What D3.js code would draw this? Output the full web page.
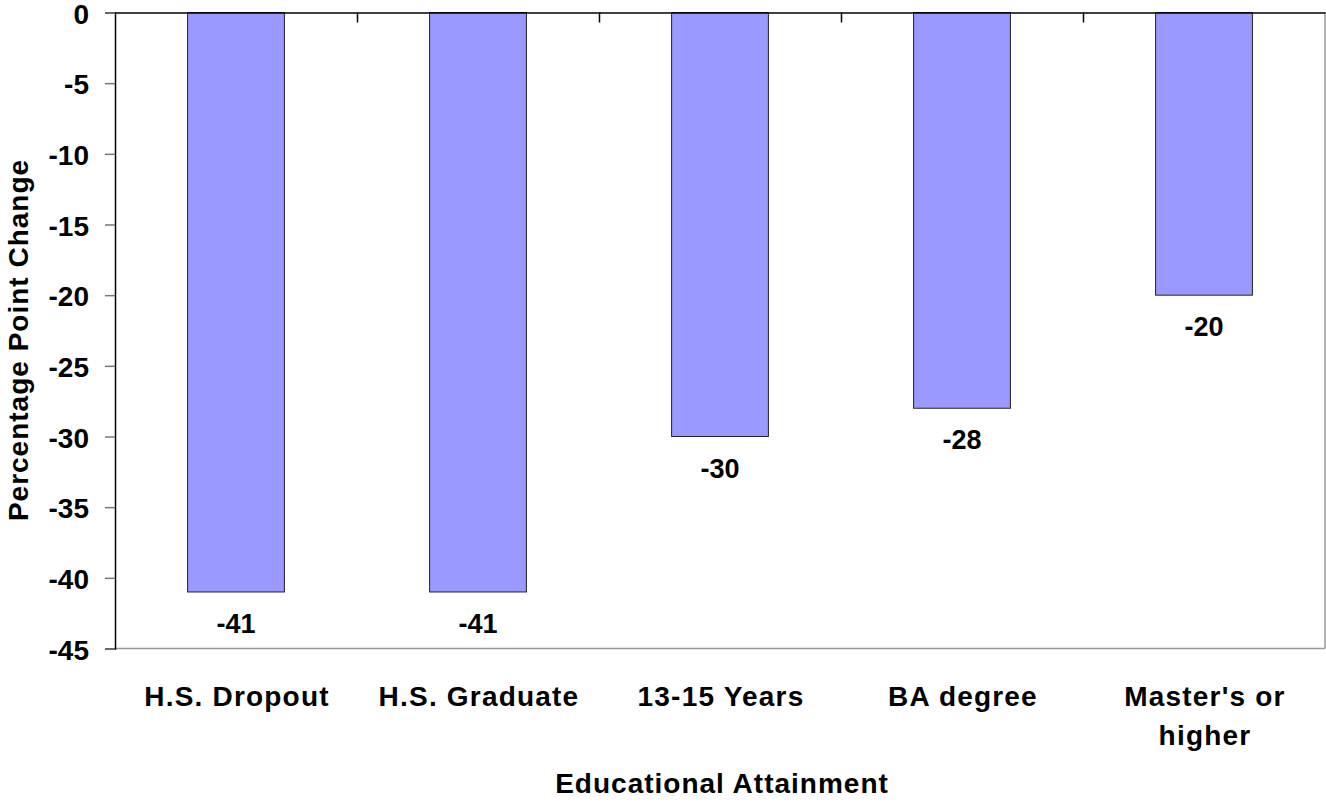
<!DOCTYPE html>
<html>
<head>
<meta charset="utf-8">
<script src="https://cdn.jsdelivr.net/npm/d3@7"></script>
<style>
  html, body { margin: 0; padding: 0; background: #fff; }
  svg { display: block; font-family: "Liberation Sans", Arial, sans-serif; font-weight: bold; }
</style>
</head>
<body>
<svg id="chart" width="1326" height="804"></svg>
<script>
const categories = ["H.S. Dropout", "H.S. Graduate", "13-15 Years", "BA degree", "Master's or higher"];
const categoryLines = [["H.S. Dropout"], ["H.S. Graduate"], ["13-15 Years"], ["BA degree"], ["Master's or", "higher"]];
const values = [-41, -41, -30, -28, -20];
const yTicks = [0, -5, -10, -15, -20, -25, -30, -35, -40, -45];
const yTitle = "Percentage Point Change";
const xTitle = "Educational Attainment";

(function () {
const svg = d3.select("#chart");
const pL = 115, pR = 1325, pT = 12.5, pB = 648.5;

const x = d3.scaleBand().domain(categories).range([pL, pR]).paddingInner(0.6).paddingOuter(0.3);
const xOuter = d3.scaleBand().domain(categories).range([pL, pR]);
const y = d3.scaleLinear().domain([0, -45]).range([pT, pB]);

// plot border (gray) on bottom and right
svg.append("line").attr("x1", pL).attr("x2", pR).attr("y1", pB).attr("y2", pB)
  .attr("stroke", "#999").attr("stroke-width", 1.5);
svg.append("line").attr("x1", pR).attr("x2", pR).attr("y1", pT).attr("y2", pB)
  .attr("stroke", "#999").attr("stroke-width", 1.5);

// bars
svg.append("g").selectAll("rect").data(values).join("rect")
  .attr("x", (d, i) => x(categories[i]))
  .attr("width", x.bandwidth())
  .attr("y", d => y(Math.max(0, d)))
  .attr("height", d => Math.abs(y(d) - y(0)))
  .attr("fill", "#9999FF")
  .attr("stroke", "#222")
  .attr("stroke-width", 1);

// value labels
svg.append("g").selectAll("text").data(values).join("text")
  .attr("x", (d, i) => x(categories[i]) + x.bandwidth() / 2)
  .attr("y", d => y(d) + 41)
  .attr("text-anchor", "middle")
  .attr("font-size", 27)
  .attr("fill", "#000")
  .text(d => String(d));

// y axis
const yAxis = d3.axisLeft(y).tickValues(yTicks).tickSize(10).tickPadding(16).tickFormat(d => String(d));
const gy = svg.append("g").attr("transform", `translate(${pL},0)`).call(yAxis);
gy.select(".domain").attr("stroke", "#000").attr("stroke-width", 1.5);
gy.selectAll(".tick line").attr("stroke", "#777").attr("stroke-width", 1.5);
gy.selectAll(".tick text").attr("font-size", 28).attr("font-family", "Liberation Sans, Arial, sans-serif")
  .attr("font-weight", "bold").attr("fill", "#000").attr("dy", "0.38em");

// top axis at zero with inward category-boundary ticks
const boundaries = categories.slice(1).map(c => xOuter(c));
const xAxis = d3.axisTop(d3.scaleLinear().domain([pL, pR]).range([pL, pR]))
  .tickValues(boundaries).tickSize(-10).tickFormat("").tickSizeOuter(0);
const gx = svg.append("g").attr("transform", `translate(0,${y(0)})`).call(xAxis);
gx.select(".domain").attr("stroke", "#000").attr("stroke-width", 1.5);
gx.selectAll(".tick line").attr("stroke", "#000").attr("stroke-width", 1.5);

// category labels
const cl = svg.append("g").selectAll("text").data(categoryLines).join("text")
  .attr("x", (d, i) => xOuter(categories[i]) + xOuter.bandwidth() / 2 + 1)
  .attr("y", 706)
  .attr("text-anchor", "middle")
  .attr("font-size", 28)
  .attr("letter-spacing", 1.2)
  .attr("fill", "#000");
cl.selectAll("tspan").data(d => d).join("tspan")
  .attr("x", function() { return this.parentNode.getAttribute("x"); })
  .attr("dy", (d, j) => j === 0 ? 0 : 39)
  .text(d => d);

// axis titles
svg.append("text")
  .attr("x", 722).attr("y", 793)
  .attr("text-anchor", "middle").attr("font-size", 28).attr("letter-spacing", 1)
  .attr("fill", "#000").text(xTitle);

svg.append("text")
  .attr("transform", `translate(28,340) rotate(-90)`)
  .attr("text-anchor", "middle").attr("font-size", 28).attr("letter-spacing", 1)
  .attr("fill", "#000").text(yTitle);
})();
</script>
</body>
</html>
